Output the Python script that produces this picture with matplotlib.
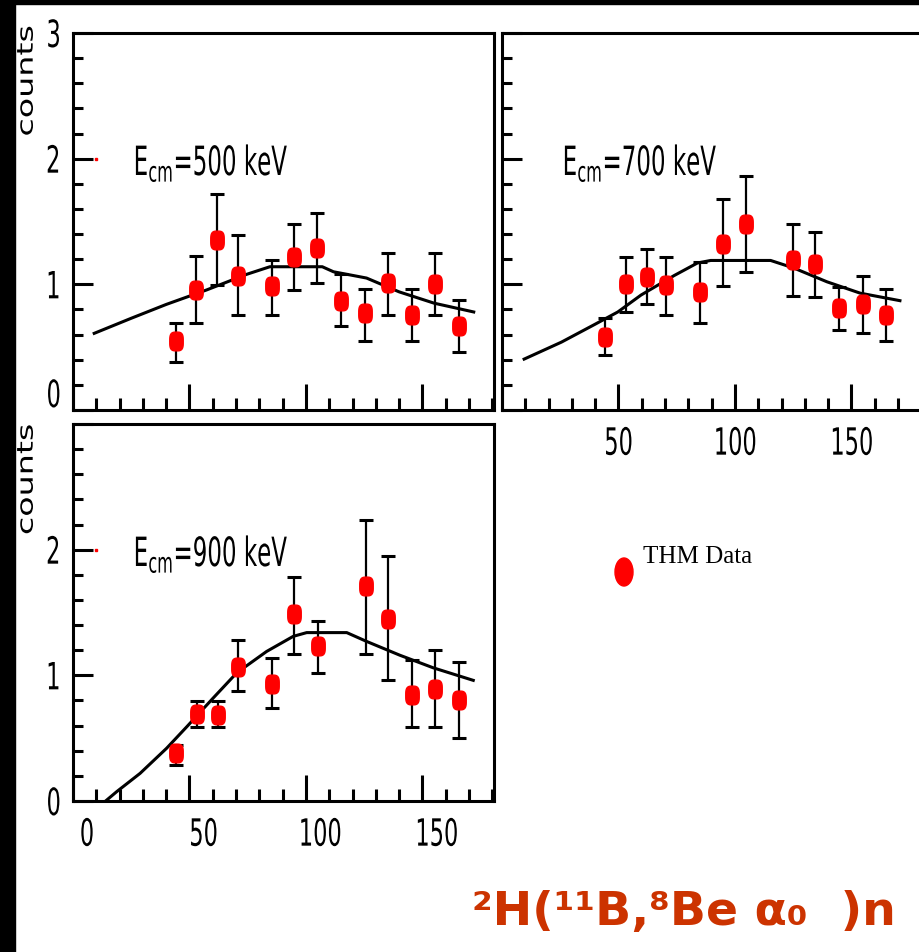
import numpy as np
import matplotlib.pyplot as plt
from matplotlib.patches import Rectangle, Ellipse
from matplotlib.transforms import ScaledTranslation, Affine2D
from matplotlib.patheffects import AbstractPathEffect
from matplotlib.path import Path

plt.rcParams['font.family'] = ['DejaVu Sans']
plt.rcParams['mathtext.default'] = 'regular'

# ---------------------
# Dati
# ---------------------
# E_cm = 500 keV
x500 = [44.1, 52.8, 61.8, 70.7, 85.3, 95.0, 104.9, 115.2, 125.3, 135.1, 145.4, 155.4, 165.7]
y500 = [0.55, 0.955, 1.35, 1.07, 0.99, 1.22, 1.29, 0.87, 0.77, 1.01, 0.755, 1.0, 0.67]
lo500 = [0.38, 0.695, 0.995, 0.755, 0.755, 0.955, 1.01, 0.67, 0.55, 0.755, 0.55, 0.755, 0.46]
hi500 = [0.69, 1.225, 1.72, 1.39, 1.19, 1.48, 1.57, 1.08, 0.96, 1.25, 0.96, 1.25, 0.875]
cx500 = [9.1, 25.0, 40.0, 57.3, 74.6, 84.5, 107.0, 111.8, 126.0, 140.0, 155.0, 172.0]
cy500 = [0.61, 0.73, 0.84, 0.955, 1.08, 1.14, 1.14, 1.10, 1.05, 0.94, 0.85, 0.78]

# E_cm = 700 keV
x700 = [44.3, 53.3, 62.1, 70.6, 85.0, 94.9, 104.8, 124.9, 134.5, 144.7, 154.8, 164.7]
y700 = [0.58, 1.0, 1.055, 0.995, 0.94, 1.32, 1.48, 1.19, 1.16, 0.81, 0.84, 0.755]
lo700 = [0.44, 0.78, 0.84, 0.755, 0.695, 0.99, 1.10, 0.91, 0.90, 0.64, 0.61, 0.55]
hi700 = [0.73, 1.22, 1.28, 1.22, 1.18, 1.68, 1.86, 1.48, 1.42, 0.98, 1.07, 0.96]
cx700 = [9.5, 25.5, 39.7, 49.7, 59.7, 73.9, 83.9, 89.6, 115.3, 125.2, 139.5, 153.7, 170.8]
cy700 = [0.405, 0.54, 0.68, 0.78, 0.915, 1.07, 1.17, 1.19, 1.19, 1.13, 1.02, 0.93, 0.87]

# E_cm = 900 keV
x900 = [44.1, 53.4, 62.1, 70.7, 85.3, 95.0, 105.0, 125.6, 135.1, 145.6, 155.4, 165.7]
y900 = [0.38, 0.69, 0.685, 1.07, 0.935, 1.485, 1.23, 1.71, 1.45, 0.845, 0.895, 0.80]
lo900 = [0.29, 0.59, 0.59, 0.875, 0.74, 1.17, 1.02, 1.17, 0.96, 0.59, 0.59, 0.50]
hi900 = [0.445, 0.795, 0.795, 1.28, 1.14, 1.78, 1.43, 2.24, 1.95, 1.12, 1.20, 1.11]
cx900 = [14.0, 18.8, 28.8, 40.2, 48.8, 60.2, 70.3, 83.1, 94.5, 100.3, 117.5, 126.0, 140.3, 154.6, 171.8]
cy900 = [0.0, 0.075, 0.22, 0.42, 0.59, 0.82, 1.02, 1.19, 1.31, 1.34, 1.34, 1.27, 1.16, 1.06, 0.96]


# ---------------------
# Testo "stretto" (font tipo PAW): scala orizzontale del glifo
# ---------------------
class Squeeze(AbstractPathEffect):
    def __init__(self, sx, anchor=0.0):
        super().__init__()
        self.sx = sx
        self.anchor = anchor

    def draw_path(self, renderer, gc, tpath, affine, rgbFace=None):
        ext = tpath.get_extents()
        x0 = ext.x0 + self.anchor * ext.width
        t = Affine2D().translate(-x0, 0).scale(self.sx, 1.0).translate(x0, 0) + affine
        renderer.draw_path(gc, tpath, t, rgbFace)


# ---------------------
# Figura
# ---------------------
W, H = 919, 952
fig = plt.figure(figsize=(W / 100, H / 100), dpi=100)
fig.patch.set_facecolor('white')

# marker quasi rettangolare arrotondato (come nel plot originale)
th = np.linspace(0, 2 * np.pi, 65)
c, s = np.cos(th), np.sin(th)
mk = Path(np.column_stack([0.36 * np.sign(c) * np.abs(c) ** 0.6,
                           0.5 * np.sign(s) * np.abs(s) ** 0.6]))

SQ = 0.6


def px_axes(left, top, right, bottom):
    return fig.add_axes([left / W, 1 - bottom / H, (right - left) / W, (bottom - top) / H])


def style(ax, xlabels, ylabels):
    ax.set_xlim(0, 180.7)
    ax.set_ylim(0, 3)
    for sp in ax.spines.values():
        sp.set_linewidth(2.2)
    ax.set_xticks([0, 50, 100, 150])
    ax.set_xticks(np.arange(0, 181, 10), minor=True)
    ax.set_yticks([0, 1, 2, 3])
    ax.set_yticks(np.arange(0, 3.01, 0.2), minor=True)
    ax.set_xticklabels(xlabels)
    ax.set_yticklabels(ylabels)
    ax.tick_params(axis='x', which='major', direction='in', length=19, width=2.2,
                   top=False, pad=12, labelsize=27)
    ax.tick_params(axis='x', which='minor', direction='in', length=8.5, width=2.2, top=False)
    ax.tick_params(axis='y', which='major', direction='in', length=14.4, width=2.2,
                   right=False, pad=8, labelsize=27)
    ax.tick_params(axis='y', which='minor', direction='in', length=7.2, width=2.2, right=False)
    for lbl in ax.get_xticklabels():
        lbl.set_path_effects([Squeeze(SQ, 0.5)])
    for lbl in ax.get_yticklabels():
        lbl.set_path_effects([Squeeze(SQ, 1.0)])


def draw(ax, x, y, lo, hi, cx, cy, label):
    x, y, lo, hi = map(np.array, (x, y, lo, hi))
    ax.plot(cx, cy, color='black', lw=2.2, zorder=2)
    ax.errorbar(x, y, yerr=[y - lo, hi - y], fmt='none', ecolor='black',
                elinewidth=1.6, capsize=4.9, capthick=2.2, zorder=3)
    ax.plot(x, y, ls='none', marker=mk, ms=13.5, color='red', mec='red', zorder=4)
    t = ax.text(25.3, 1.87, label, fontsize=29, va='baseline')
    t.set_path_effects([Squeeze(0.57, 0.0)])


ax1 = px_axes(73, 33, 494, 410)
ax2 = px_axes(502, 33, 923, 410)
ax3 = px_axes(73, 424, 494, 801)

style(ax1, [], ['0', '1', '2', '3'])
style(ax2, ['', '50', '100', '150'], [])
style(ax3, ['0', '50', '100', '150'], ['0', '1', '2', ''])

draw(ax1, x500, y500, lo500, hi500, cx500, cy500, r'E$_{cm}$=500 keV')
draw(ax2, x700, y700, lo700, hi700, cx700, cy700, r'E$_{cm}$=700 keV')
draw(ax3, x900, y900, lo900, hi900, cx900, cy900, r'E$_{cm}$=900 keV')

# piccolo puntino rosso vicino a y=2 (residuo della legenda originale)
for ax in (ax1, ax3):
    ax.plot([10], [2], ls='none', marker='s', ms=1.5, color='red')

for ax, ytop in ((ax1, 1.02), (ax3, 1.0)):
    t = ax.text(-0.11, ytop, 'counts', transform=ax.transAxes, rotation=90,
                ha='center', va='top', fontsize=16)
    t.set_path_effects([Squeeze(1.5, 1.0)])

# spostamenti delle etichette come nell'originale
for lbl in ax3.get_xticklabels():
    lbl.set_transform(lbl.get_transform() + ScaledTranslation(0.14, 0, fig.dpi_scale_trans))
for lbl in ax1.get_yticklabels():
    if lbl.get_text() == '0':
        lbl.set_transform(lbl.get_transform() + ScaledTranslation(0, 0.17, fig.dpi_scale_trans))

# legenda
fig.add_artist(Ellipse((624 / W, 1 - 572 / H), 18 / W, 28 / H,
                       transform=fig.transFigure, color='red'))
fig.text(643 / W, 1 - 557 / H, 'THM Data', family=['Liberation Serif', 'DejaVu Serif'],
         fontsize=18, va='center', ha='left')

# titolo della reazione
fig.text(472 / W, 1 - 925 / H, '²H(¹¹B,⁸Be α₀  )n', color='#cc3300', fontsize=34,
         fontweight='bold', family=['DejaVu Sans'], va='baseline', ha='left')

# bordi neri
fig.add_artist(Rectangle((0, 0), 15 / W, 1, transform=fig.transFigure,
                         color='black', zorder=10))
fig.add_artist(Rectangle((0, 1 - 4 / H), 1, 4 / H, transform=fig.transFigure,
                         color='black', zorder=10))

plt.savefig('out.png', dpi=100)
